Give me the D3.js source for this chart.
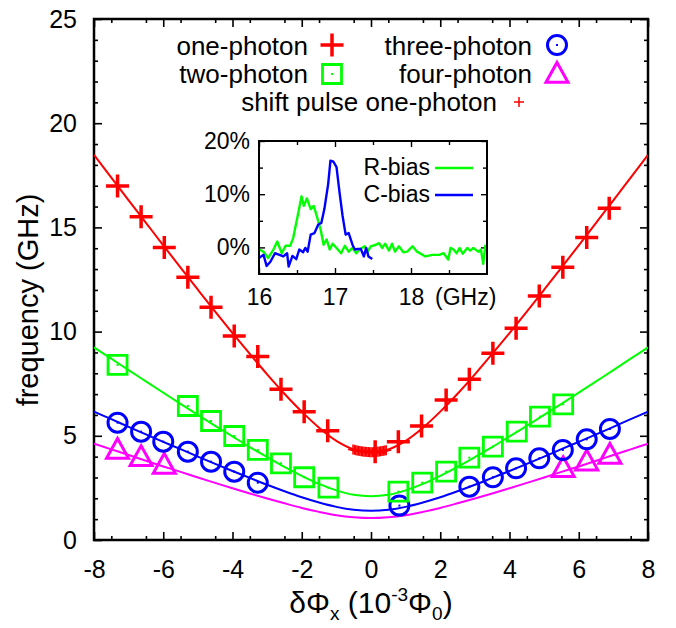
<!DOCTYPE html>
<html><head><meta charset="utf-8">
<script src="https://cdn.jsdelivr.net/npm/d3@7"></script>
<style>body{margin:0;background:#fff}svg{display:block;font-family:"Liberation Sans",Arial,Helvetica,sans-serif}</style>
</head><body><svg id="c" width="676" height="628"></svg>
<script>
// ---- data ----
const xTicks = [-8,-6,-4,-2,0,2,4,6,8];
const yTicks = [0,5,10,15,20,25];
const fitX = [-8,-7.5,-7,-6.5,-6,-5.5,-5,-4.5,-4,-3.5,-3,-2.5,-2,-1.5,-1,-0.5,0,0.5,1,1.5,2,2.5,3,3.5,4,4.5,5,5.5,6,6.5,7,7.5,8];
const fitOne = [18.48,17.39,16.30,15.22,14.14,13.07,12.01,10.96,9.93,8.93,7.95,7.02,6.16,5.39,4.76,4.35,4.20,4.35,4.76,5.39,6.16,7.02,7.95,8.93,9.93,10.96,12.01,13.07,14.14,15.22,16.30,17.39,18.48];
const fitTwo = [9.24,8.70,8.15,7.61,7.07,6.53,6.00,5.48,4.97,4.46,3.98,3.51,3.08,2.69,2.38,2.17,2.10,2.17,2.38,2.69,3.08,3.51,3.98,4.46,4.97,5.48,6.00,6.53,7.07,7.61,8.15,8.70,9.24];
const fitThree = [6.16,5.80,5.43,5.07,4.71,4.36,4.00,3.65,3.31,2.98,2.65,2.34,2.05,1.80,1.59,1.45,1.40,1.45,1.59,1.80,2.05,2.34,2.65,2.98,3.31,3.65,4.00,4.36,4.71,5.07,5.43,5.80,6.16];
const fitFour = [4.62,4.35,4.08,3.80,3.53,3.27,3.00,2.74,2.48,2.23,1.99,1.76,1.54,1.35,1.19,1.09,1.05,1.09,1.19,1.35,1.54,1.76,1.99,2.23,2.48,2.74,3.00,3.27,3.53,3.80,4.08,4.35,4.62];

const oneX = [-7.32,-6.64,-5.97,-5.29,-4.62,-3.95,-3.27,-2.60,-1.93,-1.25,0.12,0.79,1.46,2.17,2.84,3.52,4.19,4.86,5.54,6.23,6.88];
const oneF = [16.99,15.51,14.04,12.61,11.17,9.79,8.80,7.23,6.16,5.24,4.24,4.72,5.47,6.72,7.71,8.96,10.16,11.71,13.09,14.52,15.92];
const twoX = [-7.32,-5.29,-4.62,-3.95,-3.27,-2.60,-1.93,-1.23,0.79,1.48,2.17,2.84,3.52,4.21,4.88,5.55];
const twoF = [8.40,6.43,5.71,4.99,4.32,3.68,3.01,2.51,2.32,2.75,3.28,3.95,4.48,5.20,5.92,6.51];
const threeX = [-7.32,-6.64,-6.00,-5.29,-4.62,-3.95,-3.27,0.82,2.84,3.52,4.19,4.86,5.54,6.23,6.90];
const threeF = [5.63,5.20,4.72,4.24,3.76,3.28,2.75,1.65,2.56,3.01,3.44,3.92,4.32,4.83,5.33];
const fourX = [-7.32,-6.64,-5.97,5.55,6.23,6.90];
const fourF = [4.32,3.97,3.60,3.44,3.76,4.08];
const shiftX = [-0.52,-0.48,-0.44,-0.40,-0.36,-0.32,-0.28,-0.24,-0.20,-0.16,-0.12,-0.08,-0.04,0.00,0.04,0.08,0.12,0.16,0.20,0.24,0.28,0.32,0.36,0.40,0.44];
const shiftF = [4.34,4.33,4.31,4.30,4.28,4.27,4.26,4.25,4.24,4.23,4.22,4.22,4.21,4.21,4.21,4.22,4.22,4.23,4.24,4.25,4.26,4.27,4.28,4.30,4.31];

const insetXTicks = [16,17,18];
const insetYTicks = [0,10,20];
const rX = [16.00,16.06,16.12,16.19,16.24,16.30,16.35,16.41,16.45,16.50,16.56,16.59,16.63,16.68,16.72,16.76,16.81,16.85,16.89,16.93,16.97,17.02,17.08,17.13,17.18,17.23,17.28,17.33,17.39,17.43,17.47,17.54,17.58,17.62,17.66,17.71,17.75,17.79,17.84,17.90,17.95,18.02,18.08,18.19,18.28,18.37,18.43,18.49,18.52,18.56,18.60,18.64,18.68,18.74,18.78,18.82,18.89,18.92,18.95,18.98];
const rY = [-0.4,-0.8,-2.0,-0.4,1.1,-1.1,0.3,0.3,1.8,5.3,9.6,7.8,9.2,7.2,7.8,5.9,3.4,0.5,1.5,-0.4,0.7,-0.1,-1.1,0.3,-0.8,-0.1,-1.1,-0.3,0.2,-0.8,0.2,0.5,0.8,-0.1,0.7,-0.6,0.7,-0.8,0.2,-0.9,-0.8,0.2,-0.8,-1.7,-1.4,-1.4,-1.1,-2.3,-0.1,-0.4,-1.1,-0.1,-1.2,-0.1,-0.6,-0.1,-0.8,-0.4,-3.1,0.5];
const cX = [16.00,16.06,16.10,16.15,16.21,16.27,16.32,16.37,16.39,16.44,16.49,16.53,16.58,16.61,16.64,16.68,16.73,16.78,16.82,16.86,16.91,16.94,16.98,17.02,17.06,17.10,17.14,17.18,17.23,17.26,17.30,17.34,17.38,17.41,17.44,17.49];
const cY = [-2.0,-1.4,-3.5,-2.7,-1.1,-1.4,-1.7,-1.1,-3.6,-1.6,-2.2,-0.4,-0.9,-0.1,-0.8,2.4,2.7,4.3,4.6,7.2,11.9,16.3,16.1,15.1,10.3,5.9,2.4,2.7,0.5,-0.4,-0.3,-0.3,-1.7,-0.1,-1.7,-2.2];

const RED="#ff0000", GREEN="#00ff00", BLUE="#0000ff", MAG="#ff00ff";

// ---- main plot ----
const svg = d3.select("#c");
const x = d3.scaleLinear([-8,8],[94,648]);
const y = d3.scaleLinear([0,25],[540,19]);
const FS = 25;

svg.append("defs").append("clipPath").attr("id","clip")
  .append("rect").attr("x",94).attr("y",19).attr("width",554).attr("height",521);

function axisStyle(g){ g.select(".domain").remove(); g.selectAll("line").attr("stroke","#000").attr("stroke-width",1.6); g.selectAll("text").attr("font-size",FS).attr("font-family",null).attr("fill","#000"); }
const minorX = d3.range(-7.5,8,1);
const minorY = d3.range(1,25,1).filter(d=>d%5!==0);

svg.append("g").attr("transform","translate(0,540)").call(d3.axisBottom(x).tickValues(xTicks).tickSize(-8).tickPadding(20).tickFormat(d=>String(d))).call(axisStyle);
svg.append("g").attr("transform","translate(0,540)").call(d3.axisBottom(x).tickValues(minorX).tickSize(-4).tickFormat("")).call(axisStyle);
svg.append("g").attr("transform","translate(0,19)").call(d3.axisTop(x).tickValues(xTicks).tickSize(-8).tickFormat("")).call(axisStyle);
svg.append("g").attr("transform","translate(0,19)").call(d3.axisTop(x).tickValues(minorX).tickSize(-4).tickFormat("")).call(axisStyle);
svg.append("g").attr("transform","translate(94,0)").call(d3.axisLeft(y).tickValues(yTicks).tickSize(-8).tickPadding(17).tickFormat(d=>String(d))).call(axisStyle);
svg.append("g").attr("transform","translate(94,0)").call(d3.axisLeft(y).tickValues(minorY).tickSize(-4).tickFormat("")).call(axisStyle);
svg.append("g").attr("transform","translate(648,0)").call(d3.axisRight(y).tickValues(yTicks).tickSize(-8).tickFormat("")).call(axisStyle);
svg.append("g").attr("transform","translate(648,0)").call(d3.axisRight(y).tickValues(minorY).tickSize(-4).tickFormat("")).call(axisStyle);

svg.append("rect").attr("x",94).attr("y",19).attr("width",554).attr("height",521)
  .attr("fill","none").attr("stroke","#000").attr("stroke-width",2.5);

// fit curves
const line = d3.line().x(d=>x(d[0])).y(d=>y(d[1])).curve(d3.curveCatmullRom);
const fits = [[fitFour,MAG],[fitThree,BLUE],[fitTwo,GREEN],[fitOne,RED]];
const curveG = svg.append("g").attr("clip-path","url(#clip)");
fits.forEach(([vals,col])=>{
  curveG.append("path").datum(fitX.map((v,i)=>[v,vals[i]])).attr("d",line)
    .attr("fill","none").attr("stroke",col).attr("stroke-width",2);
});

// markers
const plusPath = s => `M${-s},0H${s}M0,${-s}V${s}`;
const sqPath = s => `M${-s},${-s}H${s}V${s}H${-s}Z`;
const triPath = s => `M0,${-s*1.05}L${s},${s*0.75}L${-s},${s*0.75}Z`;
function drawMarkers(g, xs, fs, kind, col){
  const sel = g.selectAll(null).data(xs.map((v,i)=>[v,fs[i]])).enter().append("g")
    .attr("transform",d=>`translate(${x(d[0])},${y(d[1])})`);
  addMarker(sel, kind, col);
}
function addMarker(sel, kind, col){
  if(kind==="plus") sel.append("path").attr("d",plusPath(11.5)).attr("stroke",col).attr("stroke-width",3.5).attr("fill","none");
  if(kind==="small") sel.append("path").attr("d",plusPath(5)).attr("stroke",col).attr("stroke-width",1.5).attr("fill","none");
  if(kind==="square"){ sel.append("path").attr("d",sqPath(9.5)).attr("stroke",col).attr("stroke-width",2.8).attr("fill","none");
    sel.append("rect").attr("x",-1).attr("y",-1).attr("width",2).attr("height",2).attr("fill",col); }
  if(kind==="circle"){ sel.append("circle").attr("r",9.5).attr("stroke",col).attr("stroke-width",3).attr("fill","none");
    sel.append("rect").attr("x",-1).attr("y",-1).attr("width",2).attr("height",2).attr("fill",col); }
  if(kind==="tri") sel.append("path").attr("d",triPath(11)).attr("stroke",col).attr("stroke-width",3).attr("fill","none").attr("stroke-linejoin","miter");
}
const mk = svg.append("g");
drawMarkers(mk, fourX, fourF, "tri", MAG);
drawMarkers(mk, threeX, threeF, "circle", BLUE);
drawMarkers(mk, twoX, twoF, "square", GREEN);
drawMarkers(mk, shiftX, shiftF, "small", RED);
drawMarkers(mk, oneX, oneF, "plus", RED);

// legend
const LF = 26;
const legend = [
  {t:"one-photon", tx:308, ty:55, mx:332, my:45, k:"plus", c:RED},
  {t:"two-photon", tx:308, ty:83, mx:332, my:74, k:"square", c:GREEN},
  {t:"three-photon", tx:532, ty:55, mx:557, my:45, k:"circle", c:BLUE},
  {t:"four-photon", tx:532, ty:83, mx:557, my:74, k:"tri", c:MAG},
  {t:"shift pulse one-photon", tx:497, ty:111, mx:519, my:102, k:"small", c:RED}
];
legend.forEach(l=>{
  svg.append("text").attr("x",l.tx).attr("y",l.ty).attr("text-anchor","end").attr("font-size",LF).text(l.t);
  addMarker(svg.append("g").attr("transform",`translate(${l.mx},${l.my})`), l.k, l.c);
});

// axis labels
svg.append("text").attr("transform","translate(38,300) rotate(-90)").attr("text-anchor","middle")
  .attr("font-size",29).text("frequency (GHz)");
const xl = svg.append("text").attr("x",371).attr("y",613).attr("text-anchor","middle").attr("font-size",30);
xl.append("tspan").text("δΦ");
xl.append("tspan").attr("font-size",19).attr("dy",7).text("x");
xl.append("tspan").attr("dy",-7).text(" (10");
xl.append("tspan").attr("font-size",19).attr("dy",-12).text("-3");
xl.append("tspan").attr("dy",12).text("Φ");
xl.append("tspan").attr("font-size",19).attr("dy",7).text("0");
xl.append("tspan").attr("dy",-7).text(")");

// ---- inset ----
const xi = d3.scaleLinear([16,19],[259,487]);
const yi = d3.scaleLinear([-5,20],[274,141]);
const IF = 23;
function insetStyle(g){ g.select(".domain").remove(); g.selectAll("line").attr("stroke","#000").attr("stroke-width",1.4); g.selectAll("text").attr("font-size",IF).attr("font-family",null).attr("fill","#000"); }
svg.append("rect").attr("x",259).attr("y",141).attr("width",228).attr("height",133).attr("fill","#fff");
svg.append("g").attr("transform","translate(0,274)").call(d3.axisBottom(xi).tickValues(insetXTicks).tickSize(-6).tickPadding(15).tickFormat(d=>String(d))).call(insetStyle);
svg.append("g").attr("transform","translate(0,274)").call(d3.axisBottom(xi).tickValues([16.5,17.5,18.5]).tickSize(-4).tickFormat("")).call(insetStyle);
svg.append("g").attr("transform","translate(0,141)").call(d3.axisTop(xi).tickValues(insetXTicks).tickSize(-6).tickFormat("")).call(insetStyle);
svg.append("g").attr("transform","translate(0,141)").call(d3.axisTop(xi).tickValues([16.5,17.5,18.5]).tickSize(-4).tickFormat("")).call(insetStyle);
svg.append("g").attr("transform","translate(259,0)").call(d3.axisLeft(yi).tickValues(insetYTicks).tickSize(-6).tickPadding(9).tickFormat(d=>d+"%")).call(insetStyle);
svg.append("g").attr("transform","translate(259,0)").call(d3.axisLeft(yi).tickValues([5,15]).tickSize(-4).tickFormat("")).call(insetStyle);
svg.append("g").attr("transform","translate(487,0)").call(d3.axisRight(yi).tickValues(insetYTicks).tickSize(-6).tickFormat("")).call(insetStyle);
svg.append("g").attr("transform","translate(487,0)").call(d3.axisRight(yi).tickValues([5,15]).tickSize(-4).tickFormat("")).call(insetStyle);
svg.append("text").attr("x",435).attr("y",305).attr("font-size",IF).text("(GHz)");

const iline = d3.line().x(d=>xi(d[0])).y(d=>yi(d[1]));
svg.append("path").datum(rX.map((v,i)=>[v,rY[i]])).attr("d",iline).attr("fill","none").attr("stroke",GREEN).attr("stroke-width",2.4).attr("stroke-linejoin","round");
svg.append("path").datum(cX.map((v,i)=>[v,cY[i]])).attr("d",iline).attr("fill","none").attr("stroke",BLUE).attr("stroke-width",2.4).attr("stroke-linejoin","round");
svg.append("rect").attr("x",259).attr("y",141).attr("width",228).attr("height",133).attr("fill","none").attr("stroke","#000").attr("stroke-width",2);

[["R-bias",175,168,GREEN],["C-bias",202,195,BLUE]].forEach(([t,ty,ly,c])=>{
  svg.append("text").attr("x",430).attr("y",ty).attr("text-anchor","end").attr("font-size",IF).text(t);
  svg.append("line").attr("x1",435).attr("x2",473).attr("y1",ly).attr("y2",ly).attr("stroke",c).attr("stroke-width",2.4);
});
</script></body></html>
